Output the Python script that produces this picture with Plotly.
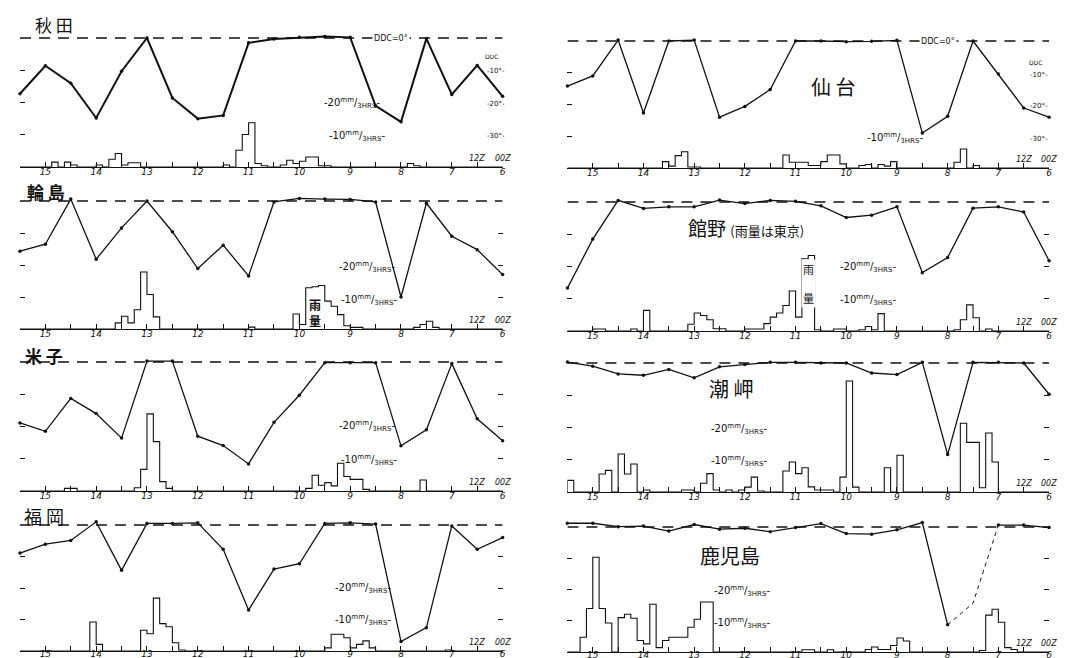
import plotly.graph_objects as go

W, H = 1066, 658

# ---------------- data ----------------
# 12-hourly observation times (day of month, 15 12Z ... 6 00Z), drawn right-to-left in time
TIMES = [15.5, 15, 14.5, 14, 13.5, 13, 12.5, 12, 11.5, 11, 10.5, 10, 9.5, 9, 8.5, 8, 7.5, 7, 6.5, 6]
DAYS = [15, 14, 13, 12, 11, 10, 9, 8, 7, 6]
DAY_LABELS = ["15", "14", "13", "12", "11", "10", "9", "8", "7", "6"]

# DDC (dew-point depression, deg) at each time
AKITA_DDC   = [-17.3, -8.6, -14, -24.8, -10.3, 0, -18.6, -25, -24, -1.5, -0.3, 0.2, 0.5, 0.2, -21, -26, -0.2, -17.5, -8.5, -18.1]
SENDAI_DDC  = [-14.2, -11, 0.3, -22.7, 0, 0.3, -24, -20.6, -15.3, 0, 0, -0.2, -0.1, 0.2, -29, -23.7, 0, -10.4, -21.1, -24]
WAJIMA_DDC  = [-15.7, -13.5, 0.6, -18.2, -8.4, 0, -9.6, -21.1, -13.8, -23.4, -0.3, 0.8, 0.6, 0.5, -0.3, -30, -0.7, -11, -15.2, -23]
TATENO_DDC  = [-26.7, -11.5, 0.5, -2, -1.5, -1.5, 0.6, -0.5, 0.5, 0.2, -1.2, -4.8, -4.1, -1.5, -21.9, -17.2, -1.9, -1.5, -3.1, -18.2]
YONAGO_DDC  = [-18.9, -21.5, -11.3, -16, -23.6, 0.3, 0.3, -23, -25.9, -31.6, -18.7, -10.3, -0.2, -0.2, -0.2, -26, -21, -0.5, -17.6, -24.4]
SHIONO_DDC  = [0.3, -1, -3.4, -3.8, -2, -4.6, -1.2, -0.5, 0.2, 0.2, 0, 0, -3.1, -3.6, 0.2, -28.4, 0.2, 0.2, 0, -9.7]
FUKUOKA_DDC = [-8.9, -6.1, -4.9, 1, -14.4, 0.5, 0.5, 0.7, -7.7, -27, -14, -12.3, 0.5, 0.7, 0.3, -37, -32.6, -0.3, -7.7, -4]
KAGO_DDC    = [1.2, 1.2, 0.1, 0.3, -1.3, 0.8, -0.7, -0.4, -1.5, -0.2, 1.1, -2.1, -2.3, -0.9, 1.4, -31.3, -24.4, 0.6, 0.6, -0.2]
KAGO_ESTIMATED = [15, 16, 17]   # segment drawn dashed (missing observation)

# 3-hourly rainfall (mm / 3hrs), 4 bins per 12 h, from 15 12Z to 6 00Z
AKITA_RAIN = [0, 0, 0, 0,  0, 1.5, 0, 1.5,  0.6, 0, 0, 0,  0.6, 0, 2.4, 4.2,  0.6, 1.3, 1.3, 0,
              0, 0, 0, 0,  0, 0, 0, 0,  0, 0, 0, 0,  0.6, 0, 5.2, 10.1,  13.7, 1.1, 0.4, 0,
              0, 0.6, 2.1, 1.1,  1.8, 3.1, 3.1, 0.4,  0.4, 0, 0, 0,  0, 0, 0, 0,  0, 0, 0, 0,
              0, 1.1, 0.4, 0,  0, 0, 0, 0,  0, 0, 0, 0,  0, 0, 0, 0]
SENDAI_RAIN = [0, 0, 0, 0,  0, 0, 0, 0,  0, 0, 0, 0,  0, 0, 0, 2,  0.6, 3.9, 5.1, 0.3,
               0.3, 0, 0, 0,  0, 0, 0, 0,  0, 0, 0, 0,  0, 0, 4.1, 1.8,  1.8, 1.8, 0.8, 0.8,
               2, 4.1, 4.1, 1.3,  0, 0, 0.8, 1.1,  0, 1.1, 0.6, 2,  0, 0, 0, 0,  0, 0, 0, 0,
               0, 1.8, 6, 0,  0.8, 0, 0, 0,  0, 0, 0, 0,  0, 0, 0, 0]
WAJIMA_RAIN = [0, 0, 0, 0,  0, 0, 0, 0,  0, 0, 0, 0,  0, 0, 0, 1.9,  4, 1.9, 6, 17.8,
               10.8, 3.8, 0, 0,  0, 0, 0, 0,  0, 0, 0, 0,  0, 0, 0, 0,  0.6, 0, 0, 0,
               0, 0, 0, 4.7,  1.4, 12.9, 13.2, 13.6,  8.7, 7.1, 4.5, 1,  0.5, 0.5, 0, 0,  0, 0, 0, 0,
               0, 0, 0.5, 1.4,  2.4, 0.5, 0, 0,  0, 0, 0, 0,  0, 0, 0, 0]
TATENO_RAIN = [0, 0, 0, 0,  0.6, 0.6, 0, 0,  0, 0, 0.6, 0,  6.4, 0, 0, 0,  0, 0, 0, 2.1,
               5.6, 4.8, 3.5, 0.7,  0.7, 0, 0, 0,  0.6, 0.6, 0.6, 2.3,  4.3, 5.6, 7.9, 12.4,  4.3, 22.4, 23.4, 0.4,
               0, 0, 0.6, 0.6,  0, 0, 0.4, 1.4,  0.4, 5.4, 0, 0,  0, 0, 0, 0,  0, 0, 0, 0,
               0, 0.4, 3.5, 8.1,  4.1, 0, 0.6, 0,  0, 0, 0, 0,  0, 0, 0, 0]
YONAGO_RAIN = [0, 0, 0, 0,  0, 0, 0, 0.8,  0.8, 0, 0, 0,  0, 0, 0, 0,  0, 0, 1, 6.7,
               23.9, 15.3, 2.9, 0.8,  0, 0, 0, 0,  0, 0, 0, 0,  0, 0, 0, 0,  0, 0, 0, 0,
               0, 0, 0, 0,  0, 0.8, 4.9, 1.8,  2.6, 1.6, 8.6, 4.5,  3.6, 3.6, 0.5, 0,  0, 0, 0, 0,
               0, 0, 0, 3.4,  0, 0, 0, 0,  0, 0, 0, 0,  0, 0, 0, 0]
SHIONO_RAIN = [3.6, 0, 0, 0,  0, 5.6, 6.7, 0,  11.8, 5.6, 8.7, 0,  0.6, 0, 0, 0,  0, 0, 0.6, 0.6,
               0, 2.7, 5.7, 0.6,  0, 0.6, 0, 0.6,  1.5, 4.6, 0.3, 0,  0, 0, 6.5, 9.3,  5.7, 7.5, 1.6, 0.6,
               0.6, 0.6, 0, 4.6,  34.4, 1.5, 0, 0,  0, 0, 7.5, 0,  11.4, 0, 0, 0,  0, 0, 0, 0,
               0, 0, 21.3, 15.4,  15.4, 1.3, 18.3, 9.3,  0, 0, 0, 0,  0, 0, 0, 0]
FUKUOKA_RAIN = [0, 0, 0, 0,  0, 0, 0, 0,  0, 0, 0, 9.2,  2.1, 0, 0, 0,  0, 0, 0, 6.6,
                5.5, 16.8, 8.7, 7.7,  2.6, 0.3, 0, 0,  0, 0, 0, 0,  0, 0, 0, 0,  0, 0, 0, 0,
                0, 0, 0, 0,  0, 0, 0, 0,  1, 5.3, 5.3, 4.2,  1, 2.1, 3.2, 1,  0, 0, 0, 0,
                0, 0, 0, 0,  0, 0, 0, 0.3,  0, 0, 0, 0,  0, 0, 0, 0]
KAGO_RAIN = [0, 0, 4.7, 13.9,  30.3, 13.9, 9.3, 0,  11, 12.1, 10.8, 3.7,  2.6, 15.3, 1.4, 3.7,  4.7, 4.7, 4.7, 7.9,
             10.5, 16, 16, 0,  0, 0, 0, 0,  0, 0, 0, 0,  0, 0, 0, 0,  0, 0.7, 0.7, 0,
             0, 0.7, 0, 0,  0, 0, 0, 0.8,  1.6, 0.8, 0.8, 2.1,  4.5, 3.5, 0, 0,  0, 0, 0, 0,
             0, 0, 0, 0,  0, 0.5, 11.8, 13.7,  9.5, 1.4, 0.8, 0,  0, 0, 0, 0]

RAIN_BIN = 0.125   # 3 hours in days

# ---------------- layout helpers ----------------
COLS = [(12, 496), (561, 1044)]   # pixel extents of the panels
INK = "#111"
CJK = "Noto Sans CJK JP"
LAT = "DejaVu Sans"

PANELS = [
    dict(col=0, Z=30,  B=159, ddc=AKITA_DDC,   rain=AKITA_RAIN,   lw=2.0, labels=True,  so=-4),
    dict(col=1, Z=33,  B=160, ddc=SENDAI_DDC,  rain=SENDAI_RAIN,  lw=1.3, labels=True,  so=-4),
    dict(col=0, Z=193, B=321, ddc=WAJIMA_DDC,  rain=WAJIMA_RAIN,  lw=1.3, labels=False, so=-4),
    dict(col=1, Z=194, B=323, ddc=TATENO_DDC,  rain=TATENO_RAIN,  lw=1.3, labels=False, so=-4),
    dict(col=0, Z=354, B=483, ddc=YONAGO_DDC,  rain=YONAGO_RAIN,  lw=1.3, labels=False, so=-4),
    dict(col=1, Z=355, B=484, ddc=SHIONO_DDC,  rain=SHIONO_RAIN,  lw=1.3, labels=False, so=-4),
    dict(col=0, Z=517, B=643, ddc=FUKUOKA_DDC, rain=FUKUOKA_RAIN, lw=1.3, labels=False, so=-6),
    dict(col=1, Z=519, B=644, ddc=KAGO_DDC,    rain=KAGO_RAIN,    lw=1.3, labels=False, so=-6),
]

def px(x, y):
    return x / W, 1 - y / H

fig = go.Figure()
layout = dict(width=W, height=H, margin=dict(l=0, r=0, t=0, b=0),
              paper_bgcolor="white", plot_bgcolor="rgba(0,0,0,0)", showlegend=False)
shapes, annotations = [], []

HALF_DAYS = [t for t in TIMES if not float(t).is_integer()]

for k, p in enumerate(PANELS, start=1):
    xid = "x" if k == 1 else f"x{k}"
    yid = "y" if k == 1 else f"y{k}"
    rid = f"y{k + 8}"
    x0, x1 = COLS[p["col"]]
    pad = 12
    ymax = 40 * pad / (p["B"] - p["Z"])
    dom_y = [1 - p["B"] / H, 1 - (p["Z"] - pad) / H]

    layout["xaxis" if k == 1 else f"xaxis{k}"] = dict(
        domain=[x0 / W, x1 / W], anchor=yid, range=[TIMES[0], TIMES[-1]],
        showgrid=False, zeroline=False, showline=True, linecolor=INK, linewidth=1.4,
        ticks="inside", ticklen=5, tickwidth=1.1, tickcolor=INK,
        tickvals=DAYS, ticktext=DAY_LABELS,
        minor=dict(tickvals=HALF_DAYS, ticks="inside", ticklen=5, tickwidth=1.1, tickcolor=INK,
                   showgrid=False),
        tickfont=dict(family=LAT, size=9, color=INK, style="italic"), ticklabelstandoff=p["so"])
    layout["yaxis" if k == 1 else f"yaxis{k}"] = dict(
        domain=dom_y, anchor=xid, range=[-40, ymax], showgrid=False, zeroline=False,
        showline=False, showticklabels=False, tickvals=[-10, -20, -30],
        ticks="inside", ticklen=5, tickwidth=1.3, tickcolor=INK,
        mirror=False if p["labels"] else "ticks")
    layout[f"yaxis{k + 8}"] = dict(
        overlaying=yid, anchor=xid, range=[0, 40 + ymax], visible=False)

    # zero line of DDC
    shapes.append(dict(type="line", xref=xid, yref=yid, x0=TIMES[0], x1=TIMES[-1], y0=0, y1=0,
                       line=dict(color=INK, width=1.4, dash="11px,8px")))

    # rainfall step histogram
    edges = [TIMES[0] - i * RAIN_BIN for i in range(len(p["rain"]) + 1)]
    sx = [edges[0]] + edges[:-1] + [edges[-1]]
    sy = [0] + list(p["rain"]) + [0]
    fig.add_trace(go.Scatter(x=sx, y=sy, xaxis=xid, yaxis=rid, mode="lines",
                             line=dict(color=INK, width=1.1, shape="hv"), hoverinfo="skip"))

    # DDC line
    ddc = p["ddc"]
    if k == 8:
        solid = [v if i not in KAGO_ESTIMATED[1:-1] else None for i, v in enumerate(ddc)]
        dash = [v if i in KAGO_ESTIMATED else None for i, v in enumerate(ddc)]
        fig.add_trace(go.Scatter(x=TIMES, y=solid, xaxis=xid, yaxis=yid, mode="lines+markers",
                                 line=dict(color=INK, width=p["lw"]), marker=dict(size=3.5, color=INK),
                                 cliponaxis=False, connectgaps=False))
        fig.add_trace(go.Scatter(x=TIMES, y=dash, xaxis=xid, yaxis=yid, mode="lines",
                                 line=dict(color=INK, width=1, dash="4px,4px"), cliponaxis=False))
    else:
        fig.add_trace(go.Scatter(x=TIMES, y=ddc, xaxis=xid, yaxis=yid, mode="lines+markers",
                                 line=dict(color=INK, width=p["lw"]), marker=dict(size=3.5, color=INK),
                                 cliponaxis=False))

    # 12Z / 00Z
    for t, s in [(TIMES[-2], "12Z"), (TIMES[-1], "00Z")]:
        annotations.append(dict(xref=xid, yref=yid, x=t, y=-40, yshift=9, text=s, showarrow=False,
                                font=dict(family=LAT, size=8, color=INK, style="italic")))

def ann(x, y, text, size=10, family=LAT, bg=None, **kw):
    ax, ay = px(x, y)
    d = dict(xref="paper", yref="paper", x=ax, y=ay, text=text, showarrow=False,
             font=dict(family=family, size=size, color=INK), xanchor="center", yanchor="middle")
    if bg:
        d["bgcolor"] = bg
    d.update(kw)
    annotations.append(d)

# station titles
ann(46, 16, "秋 田", 17, CJK)
ann(38, 183, "<b>輪 島</b>", 17, CJK)
ann(36, 347, "<b>米 子</b>", 17, CJK)
ann(36, 508, "福 岡", 18, CJK)
ann(827, 79, "仙 台", 20, CJK)
ann(740, 219, "館野 <span style='font-size:13px'>(雨量は東京)</span>", 19, CJK)
ann(725, 381, "潮 岬", 20, CJK)
ann(724, 547, "鹿児島", 20, CJK)

# rain 雨量 labels
ann(308, 304, "<b>雨<br>量</b>", 12, CJK)
ann(803, 275, "雨<br><br>量", 11, CJK, bg="white")

# DDC labels
ann(384, 30, "DDC=0°", 8, bg="white")
ann(933, 33, "DDC=0°", 8, bg="white")
for (x, ys) in [(489, (48, 63, 96, 128)), (1034, (54, 67, 98, 131))]:
    ann(x - 4, ys[0], "DDC", 6)
    ann(x, ys[1], "-10°-", 7)
    ann(x, ys[2], "-20°-", 7)
    ann(x, ys[3], "-30°-", 7)

mm20 = "-20<sup>mm</sup>/<sub>3HRS</sub>-"
mm10 = "-10<sup>mm</sup>/<sub>3HRS</sub>-"
for (x20, y20, x10, y10) in [(345, 95, 350, 128), (360, 259, 362, 292), (862, 259, 862, 292),
                              (360, 418, 362, 452), (733, 421, 733, 453), (356, 580, 356, 612),
                              (736, 583, 736, 615)]:
    ann(x20, y20, mm20, 10)
    ann(x10, y10, mm10, 10)
ann(890, 130, mm10, 10)

layout["shapes"] = shapes
layout["annotations"] = annotations
fig.update_layout(**layout)
fig.write_html("out.html")
